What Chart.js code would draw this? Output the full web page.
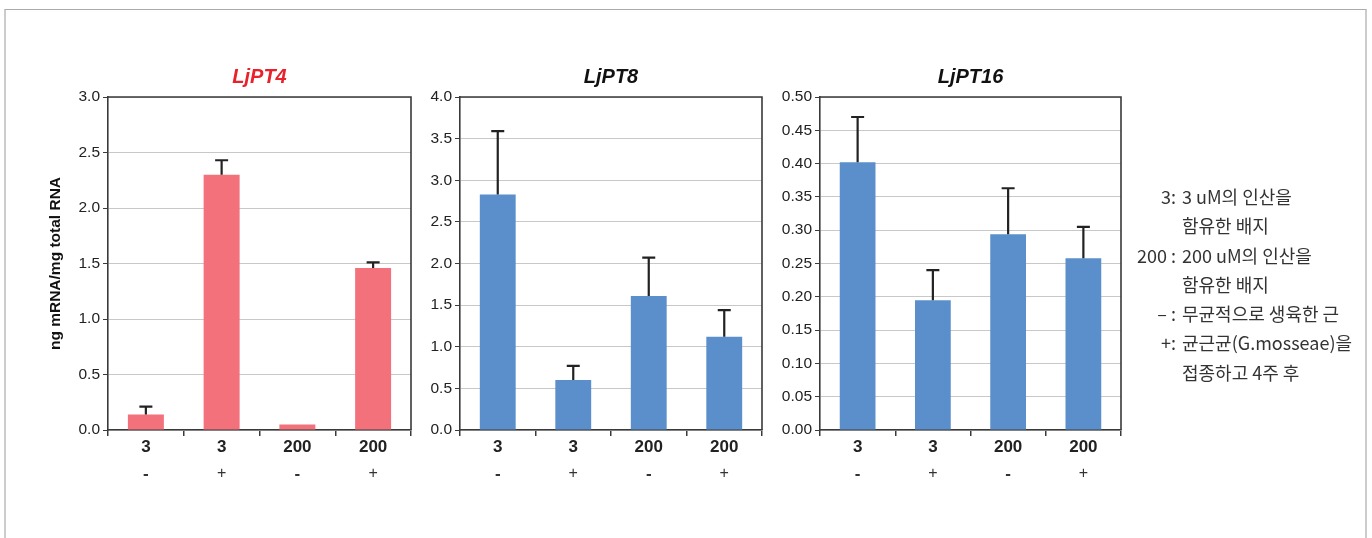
<!DOCTYPE html>
<html>
<head>
<meta charset="utf-8">
<script src="https://cdn.jsdelivr.net/npm/chart.js@4.4.0/dist/chart.umd.min.js"></script>
<style>
  body { margin: 0; background: #fff; }
  #frame { position: absolute; left: 4px; top: 9px; width: 1359px; height: 540px;
           border-top: 1px solid #aaa; border-left: 2px solid #ccc; border-right: 2px solid #ccc; }
  canvas { position: absolute; }
  #note { position: absolute; left: 1116px; top: 182px; font-family: "Noto Sans CJK KR", "Noto Sans", sans-serif;
          font-size: 18px; color: #333; line-height: 29.3px; }
  #note .row { display: flex; white-space: nowrap; }
  #note .k { width: 60px; text-align: right; padding-right: 6px; }
</style>
</head>
<body>
<div id="frame"></div>
<canvas id="c1" width="400" height="430" style="left:30px;top:58px"></canvas>
<canvas id="c2" width="360" height="430" style="left:420px;top:58px"></canvas>
<canvas id="c3" width="370" height="430" style="left:770px;top:58px"></canvas>
<div id="note">
  <div class="row"><span class="k">3:</span><span>3 uM의 인산을</span></div>
  <div class="row"><span class="k"></span><span>함유한 배지</span></div>
  <div class="row"><span class="k">200 :</span><span>200 uM의 인산을</span></div>
  <div class="row"><span class="k"></span><span>함유한 배지</span></div>
  <div class="row"><span class="k">– :</span><span>무균적으로 생육한 근</span></div>
  <div class="row"><span class="k">+:</span><span>균근균(G.mosseae)을</span></div>
  <div class="row"><span class="k"></span><span>접종하고 4주 후</span></div>
</div>
<script>
const concLabels = ['3', '3', '200', '200'];
const inocLabels = ['-', '+', '-', '+'];

const pt4Values  = [0.14, 2.30, 0.05, 1.46];
const pt4Errors  = [0.07, 0.13, 0, 0.05];
const pt8Values  = [2.83, 0.60, 1.61, 1.12];
const pt8Errors  = [0.76, 0.17, 0.46, 0.32];
const pt16Values = [0.402, 0.195, 0.294, 0.258];
const pt16Errors = [0.068, 0.045, 0.069, 0.047];

const FONT = '"Liberation Sans", Arial, sans-serif';
const DARK = '#3a3a3a';

// upward-only error bars with a cap
const errorBars = {
  id: 'errorBars',
  afterDatasetsDraw(chart, args, opts) {
    const ctx = chart.ctx;
    const y = chart.scales.y;
    const meta = chart.getDatasetMeta(0);
    const vals = chart.data.datasets[0].data;
    ctx.save();
    ctx.strokeStyle = '#222';
    ctx.lineWidth = 2.2;
    meta.data.forEach((bar, i) => {
      const e = opts.errors[i];
      if (!e) return;
      const y0 = y.getPixelForValue(vals[i]);
      const y1 = y.getPixelForValue(vals[i] + e);
      ctx.beginPath();
      ctx.moveTo(bar.x, y0);
      ctx.lineTo(bar.x, y1);
      ctx.moveTo(bar.x - 6.5, y1);
      ctx.lineTo(bar.x + 6.5, y1);
      ctx.stroke();
    });
    ctx.restore();
  }
};

// box round the plot area
const plotBox = {
  id: 'plotBox',
  afterDraw(chart) {
    const a = chart.chartArea, ctx = chart.ctx;
    ctx.save();
    ctx.strokeStyle = DARK;
    ctx.lineWidth = 1.6;
    ctx.beginPath();
    ctx.moveTo(a.left, a.top);
    ctx.lineTo(a.right, a.top);
    ctx.lineTo(a.right, a.bottom);
    ctx.stroke();
    ctx.restore();
  }
};

function makeChart(id, opts) {
  return new Chart(document.getElementById(id), {
    type: 'bar',
    data: {
      labels: concLabels,
      datasets: [{
        data: opts.values,
        backgroundColor: opts.color,
        categoryPercentage: 1,
        barPercentage: 0.475
      }]
    },
    plugins: [errorBars, plotBox],
    options: {
      responsive: false,
      animation: false,
      layout: { padding: { left: 0, right: opts.padRight, top: 0, bottom: 0 } },
      plugins: {
        legend: { display: false },
        tooltip: { enabled: false },
        errorBars: { errors: opts.errors },
        title: {
          display: true,
          fullSize: false,
          text: opts.title,
          color: opts.titleColor,
          font: { family: FONT, size: 20, weight: 'bold', style: 'italic' },
          padding: { top: 7, bottom: 8 }
        }
      },
      scales: {
        x: {
          offset: true,
          grid: { offset: true, drawOnChartArea: false, tickLength: 6, tickColor: DARK, lineWidth: 1.5 },
          border: { color: DARK, width: 1.6 },
          ticks: { color: '#222', padding: 1, font: { family: FONT, size: 17, weight: 'bold' } },
          afterFit(s) { s.height = 24; }
        },
        x2: {
          type: 'category',
          position: 'bottom',
          labels: inocLabels,
          offset: true,
          grid: { display: false },
          border: { display: false },
          ticks: {
            color: '#333', padding: 2,
            font: c => c.tick && c.tick.label === '-'
              ? { family: FONT, size: 17, weight: 'bold' }
              : { family: FONT, size: 16, weight: 'normal' }
          },
          afterFit(s) { s.height = 34; }
        },
        y: {
          min: 0,
          max: opts.max,
          grid: { color: '#c8c8c8', lineWidth: 1, tickLength: 5, tickColor: DARK },
          border: { color: DARK, width: 1.6 },
          ticks: {
            stepSize: opts.step,
            padding: 3,
            color: '#222',
            font: { family: FONT, size: 15.5 },
            callback: v => v.toFixed(opts.digits)
          },
          title: {
            display: !!opts.yTitle,
            text: opts.yTitle || '',
            color: '#111',
            font: { family: FONT, size: 15.5, weight: 'bold' },
            padding: { top: 16, bottom: 0 }
          },
          afterFit(s) { s.width = opts.yWidth; }
        }
      }
    }
  });
}

makeChart('c1', {
  values: pt4Values, errors: pt4Errors, color: '#f2717b',
  title: 'LjPT4', titleColor: '#e8212b',
  max: 3, step: 0.5, digits: 1, yWidth: 78, padRight: 19,
  yTitle: 'ng mRNA/mg total RNA'
});
makeChart('c2', {
  values: pt8Values, errors: pt8Errors, color: '#5a8fcb',
  title: 'LjPT8', titleColor: '#111',
  max: 4, step: 0.5, digits: 1, yWidth: 40, padRight: 18
});
makeChart('c3', {
  values: pt16Values, errors: pt16Errors, color: '#5a8fcb',
  title: 'LjPT16', titleColor: '#111',
  max: 0.5, step: 0.05, digits: 2, yWidth: 50, padRight: 19
});
</script>
</body>
</html>
